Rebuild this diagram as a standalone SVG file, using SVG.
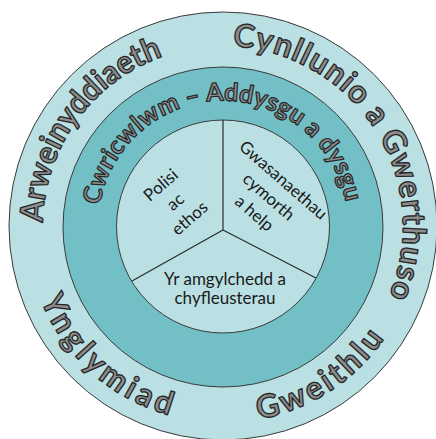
<svg xmlns="http://www.w3.org/2000/svg" width="436" height="439" viewBox="0 0 436 439">
<style>
.ring{fill:#BAE0E4;stroke:#3a3a3a;stroke-width:1}
.mid{fill:#72BFC6;stroke:#3a3a3a;stroke-width:1}
.div{stroke:#2a2a2a;stroke-width:1.2;fill:none}
.big{font-family:Lato,"Liberation Sans",sans-serif;font-weight:bold;font-size:32px;fill:#8c8c8c;stroke:#262626;stroke-width:1.3;stroke-linejoin:round}
.med{font-family:Lato,"Liberation Sans",sans-serif;font-weight:bold;font-size:25px;fill:#8c8c8c;stroke:#262626;stroke-width:1.2;stroke-linejoin:round}
.in{font-family:Lato,"Liberation Sans",sans-serif;font-size:17px;fill:#1a1a1a;text-anchor:middle}
</style>
<defs>
<path id="pA" d="M83.5,339.8 A180,180 0 0 1 286.9,57.7"/>
<path id="pC" d="M170.4,53.9 A180,180 0 0 1 354.6,348.8"/>
<path id="pY" d="M42.1,153.3 A194,194 0 0 0 314.8,398.0"/>
<path id="pG" d="M105.1,381.3 A194,194 0 0 0 413.1,182.8"/>
<path id="pM" d="M98,224.2 A125,125 0 0 1 347.9,221.1"/>
</defs>
<rect width="436" height="439" fill="#fff"/>
<g id="outer">
<circle class="ring" cx="223" cy="226" r="214"/>
<text class="big"><textPath href="#pA" startOffset="50%" text-anchor="middle" textLength="218" lengthAdjust="spacingAndGlyphs">Arweinyddiaeth</textPath></text>
<text class="big"><textPath href="#pC" startOffset="50%" text-anchor="middle" textLength="345" lengthAdjust="spacing">Cynllunio a Gwerthuso</textPath></text>
<text class="big"><textPath href="#pY" startOffset="50%" text-anchor="middle" textLength="179" lengthAdjust="spacing">Ynglymiad</textPath></text>
<text class="big"><textPath href="#pG" startOffset="50%" text-anchor="middle" textLength="153" lengthAdjust="spacing">Gweithlu</textPath></text>
</g>
<g id="middle">
<circle class="mid" cx="223" cy="227" r="160"/>
<text class="med"><textPath href="#pM" startOffset="50%" text-anchor="middle" textLength="348" lengthAdjust="spacing">Cwricwlwm – Addysgu a dysgu</textPath></text>
</g>
<g id="inner">
<circle class="ring" cx="223" cy="226.5" r="106.5"/>
</g>
<g id="connectors">
<path class="div" d="M223,230 L223,120 M223,230 L132,281 M223,230 L316,278"/>
</g>
<g id="polisi">
<text class="in" transform="translate(179,206) rotate(-41)"><tspan x="0" y="-22">Polisi</tspan><tspan x="0" y="0">ac</tspan><tspan x="0" y="22">ethos</tspan></text>
</g>
<g id="gwasanaethau">
<text class="in" transform="translate(265,201) rotate(41)"><tspan x="0" y="-22">Gwasanaethau</tspan><tspan x="0" y="0">cymorth</tspan><tspan x="0" y="22">a help</tspan></text>
</g>
<g id="amgylchedd">
<text class="in"><tspan x="225" y="285">Yr amgylchedd a</tspan><tspan x="225" y="304">chyfleusterau</tspan></text>
</g>
</svg>
